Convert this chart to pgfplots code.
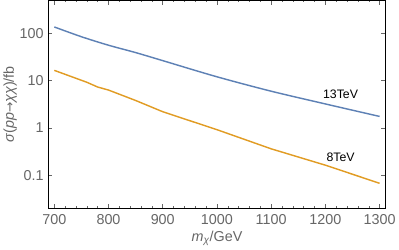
\documentclass[border=0pt]{standalone}
\usepackage{fontspec}
\setmainfont{Liberation Sans}
\newfontfamily\arrowfont{DejaVu Sans}
\usepackage{pgfplots}
\pgfplotsset{compat=1.18}
\definecolor{mblue}{rgb}{0.368417,0.506779,0.709798}
\definecolor{morange}{rgb}{0.880722,0.611041,0.142051}
\definecolor{tgray}{rgb}{0.4,0.4,0.4}
\begin{document}
\begin{tikzpicture}
\begin{axis}[
  scale only axis,
  width=329pt, height=203pt,
  ymode=log,
  xmin=689, xmax=1311,
  ymin=0.02, ymax=490,
  xtick={700,800,...,1300},
  minor x tick num=4,
  ytick={0.1,1,10,100},
  yticklabels={0.1,1,10,100},
  log basis y=10,
  /pgf/number format/assume math mode=true,
  /pgf/number format/1000 sep={},
  tick align=inside,
  major tick length=4pt,
  minor tick length=2pt,
  tick style={color=tgray, line width=0.5pt},
  axis line style={black, line width=0.8pt},
  ticklabel style={font=\fontsize{14}{16}\selectfont, text=tgray},
  label style={font=\fontsize{14}{16}\selectfont, text=tgray},
  xlabel={\textit{m}\textsubscript{\textit{χ}}/GeV},
  ylabel={\textit{σ}(\textit{pp}{\arrowfont\fontsize{12}{14}\selectfont →}\textit{χχ})/fb},
  xlabel style={yshift=0pt},
  ylabel style={yshift=-4pt},
  xticklabel style={yshift=-2pt},
  yticklabel style={xshift=-1pt},
]
\addplot[mblue, line width=1.4pt, smooth] coordinates {
(700,135) (750,84) (800,55.6) (850,38.9) (900,26.3) (1000,12.0) (1100,5.96) (1200,3.21) (1300,1.75)
};
\addplot[morange, line width=1.4pt] coordinates {
(700,16.4) (760,9.2) (780,7.3) (800,6.3) (850,3.8) (900,2.2) (1000,0.92) (1100,0.363) (1200,0.164) (1300,0.068)
};
\node[font=\fontsize{12}{14}\selectfont, black] at (axis cs:1228,5.1) {13TeV};
\node[font=\fontsize{12}{14}\selectfont, black] at (axis cs:1228,0.24) {8TeV};
\end{axis}
\end{tikzpicture}
\end{document}
